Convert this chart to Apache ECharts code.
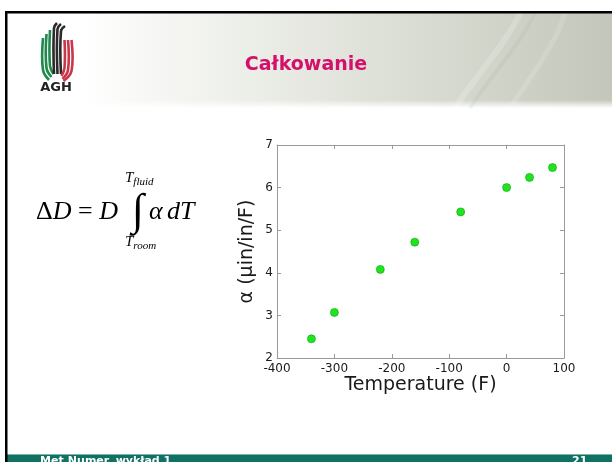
<!DOCTYPE html>
<html><head><meta charset="utf-8">
<script src="https://cdn.jsdelivr.net/npm/echarts@6/dist/echarts.min.js"></script>
<style>html,body{margin:0;padding:0;background:#fff}#c{width:612px;height:462px}</style>
</head><body><div id="c"></div>
<script>
const temperatures = [-340, -300, -220, -160, -80, 0, 40, 80];
const alphaValues = [2.45, 3.07, 4.08, 4.72, 5.43, 6.0, 6.24, 6.47];
const xTicks = [-400, -300, -200, -100, 0, 100];
const yTicks = [2, 3, 4, 5, 6, 7];
const titleText = 'Całkowanie';
const footerLeft = 'Met.Numer. wykład 1';
const footerRight = '21';

const points = temperatures.map((t, i) => [t, alphaValues[i]]);
const chart = echarts.init(document.getElementById('c'), null, {renderer: 'canvas'});
const axisCommon = {
  axisLine: {show: true, onZero: false, lineStyle: {color: '#9a9a9a', width: 1}},
  axisTick: {show: true, inside: true, length: 4, lineStyle: {color: '#9a9a9a'}},
  splitLine: {show: false}
};
const serif = '"Liberation Serif","Times New Roman",serif';
function stripe(pts, color) {
  return {type: 'polyline', z: 6, shape: {points: pts, smooth: 0.4}, style: {stroke: color, lineWidth: 2.6, fill: null}};
}
chart.setOption({
  animation: false,
  backgroundColor: '#fff',
  grid: {left: 277, right: 48, top: 145, bottom: 104, containLabel: false},
  xAxis: [
    Object.assign({type: 'value', min: -400, max: 100, interval: 100, position: 'bottom',
      name: 'Temperature (F)', nameLocation: 'middle', nameGap: 16,
      nameTextStyle: {fontFamily: 'DejaVu Sans', fontSize: 19, color: '#1a1a1a'},
      axisLabel: {fontFamily: 'DejaVu Sans', fontSize: 12, color: '#1a1a1a', margin: 5,
        formatter: v => xTicks.includes(v) ? String(v) : ''}}, axisCommon),
    Object.assign({type: 'value', min: -400, max: 100, interval: 100, position: 'top',
      axisLabel: {show: false}}, axisCommon)
  ],
  yAxis: [
    Object.assign({type: 'value', min: 2, max: 7, interval: 1, position: 'left',
      name: 'α (µin/in/F)', nameLocation: 'middle', nameGap: 20, nameRotate: 90,
      nameTextStyle: {fontFamily: 'DejaVu Sans', fontSize: 19, color: '#1a1a1a'},
      axisLabel: {fontFamily: 'DejaVu Sans', fontSize: 12, color: '#1a1a1a', margin: 4,
        formatter: v => yTicks.includes(v) ? String(v) : ''}}, axisCommon),
    Object.assign({type: 'value', min: 2, max: 7, interval: 1, position: 'right',
      axisLabel: {show: false}}, axisCommon)
  ],
  series: [{
    type: 'scatter', data: points, symbol: 'circle', symbolSize: 8,
    itemStyle: {color: '#1ee61e', opacity: 1, borderColor: '#139a13', borderWidth: 0.6}
  }],
  graphic: [
    {type: 'rect', shape: {x: 7, y: 13, width: 605, height: 95}, z: -10,
      style: {fill: new echarts.graphic.LinearGradient(0, 0, 1, 0, [
        {offset: 0, color: '#ffffff'}, {offset: 0.12, color: '#ffffff'}, {offset: 0.4, color: '#eceee8'},
        {offset: 0.7, color: '#d8dbd1'}, {offset: 1, color: '#c3c6ba'}])}},
    {type: 'rect', shape: {x: 7, y: 100, width: 605, height: 8}, z: -9,
      style: {fill: new echarts.graphic.LinearGradient(0, 0, 0, 1, [
        {offset: 0, color: 'rgba(255,255,255,0)'}, {offset: 1, color: 'rgba(255,255,255,1)'}])}},
    {type: 'bezierCurve', z: -8, shape: {x1: 455, y1: 108, cpx1: 480, cpy1: 70, cpx2: 505, cpy2: 45, x2: 520, y2: 13}, style: {fill: null, stroke: 'rgba(255,255,255,0.2)', lineWidth: 6}},
    {type: 'bezierCurve', z: -8, shape: {x1: 470, y1: 108, cpx1: 495, cpy1: 70, cpx2: 520, cpy2: 45, x2: 535, y2: 13}, style: {fill: null, stroke: 'rgba(160,165,150,0.12)', lineWidth: 4}},
    {type: 'bezierCurve', z: -8, shape: {x1: 510, y1: 108, cpx1: 535, cpy1: 70, cpx2: 555, cpy2: 45, x2: 565, y2: 13}, style: {fill: null, stroke: 'rgba(255,255,255,0.15)', lineWidth: 5}},
    {type: 'rect', shape: {x: 5, y: 11, width: 607, height: 2.5}, style: {fill: '#000'}, z: 5},
    {type: 'rect', shape: {x: 5, y: 11, width: 2.5, height: 451}, style: {fill: '#000'}, z: 5},
    {type: 'rect', shape: {x: 7, y: 454, width: 605, height: 8}, style: {fill: '#0f7262'}, z: 4},
    {type: 'rect', shape: {x: 7, y: 454, width: 605, height: 1}, style: {fill: '#7fb5a8'}, z: 4},
    {type: 'text', x: 40, y: 456, z: 6, style: {text: footerLeft, fill: '#fff', font: 'bold 11px "DejaVu Sans"', textVerticalAlign: 'top'}},
    {type: 'text', x: 572, y: 456, z: 6, style: {text: footerRight, fill: '#fff', font: 'bold 11px "DejaVu Sans"', textVerticalAlign: 'top'}},
    {type: 'text', x: 306, y: 65, z: 6, style: {text: titleText, fill: '#d4106a', font: 'bold 19px "DejaVu Sans"', textAlign: 'center', textVerticalAlign: 'middle'}},
    stripe([[43, 38], [43, 70], [49, 80]], '#1f8a4c'),
    stripe([[46.5, 34], [46.5, 68], [51.5, 77]], '#1f8a4c'),
    stripe([[50, 30], [50, 66], [53.5, 74]], '#1f8a4c'),
    stripe([[57, 23], [54, 28], [54, 74]], '#2a2a2a'),
    stripe([[61, 24], [57.5, 29], [57.5, 74]], '#2a2a2a'),
    stripe([[65, 26], [61, 31], [61, 74]], '#2a2a2a'),
    stripe([[64.5, 40], [64.5, 68], [61.5, 76]], '#c8384a'),
    stripe([[68, 40], [68, 70], [62.5, 79]], '#c8384a'),
    stripe([[71.5, 40], [71.5, 71], [63.5, 81]], '#c8384a'),
    {type: 'text', x: 56, y: 88, z: 6, style: {text: 'AGH', fill: '#222', font: 'bold 13px "DejaVu Sans"', textAlign: 'center', textVerticalAlign: 'middle'}},
    {type: 'text', x: 36, y: 212, z: 6, style: {text: '{u|Δ}{i|D}{u| = }{i|D}', textVerticalAlign: 'middle',
      rich: {u: {fontFamily: serif, fontSize: 26, fill: '#000', fontStyle: 'normal'}, i: {fontFamily: serif, fontSize: 26, fill: '#000', fontStyle: 'italic'}}}},
    {type: 'text', x: 138, y: 212, z: 6, style: {text: '∫', fill: '#000', font: '44px ' + serif, textAlign: 'center', textVerticalAlign: 'middle'}},
    {type: 'text', x: 149, y: 212, z: 6, style: {text: 'α', fill: '#000', font: 'italic 26px ' + serif, textVerticalAlign: 'middle'}},
    {type: 'text', x: 167, y: 212, z: 6, style: {text: 'dT', fill: '#000', font: 'italic 26px ' + serif, textVerticalAlign: 'middle'}},
    {type: 'text', x: 125, y: 178, z: 6, style: {text: '{t|T}{s|fluid}', textVerticalAlign: 'middle',
      rich: {t: {fontFamily: serif, fontSize: 15, fontStyle: 'italic', fill: '#000'}, s: {fontFamily: serif, fontSize: 11, fontStyle: 'italic', fill: '#000', padding: [8, 0, 0, 0]}}}},
    {type: 'text', x: 125, y: 242, z: 6, style: {text: '{t|T}{s|room}', textVerticalAlign: 'middle',
      rich: {t: {fontFamily: serif, fontSize: 15, fontStyle: 'italic', fill: '#000'}, s: {fontFamily: serif, fontSize: 11, fontStyle: 'italic', fill: '#000', padding: [8, 0, 0, 0]}}}}
  ]
});
</script></body></html>
